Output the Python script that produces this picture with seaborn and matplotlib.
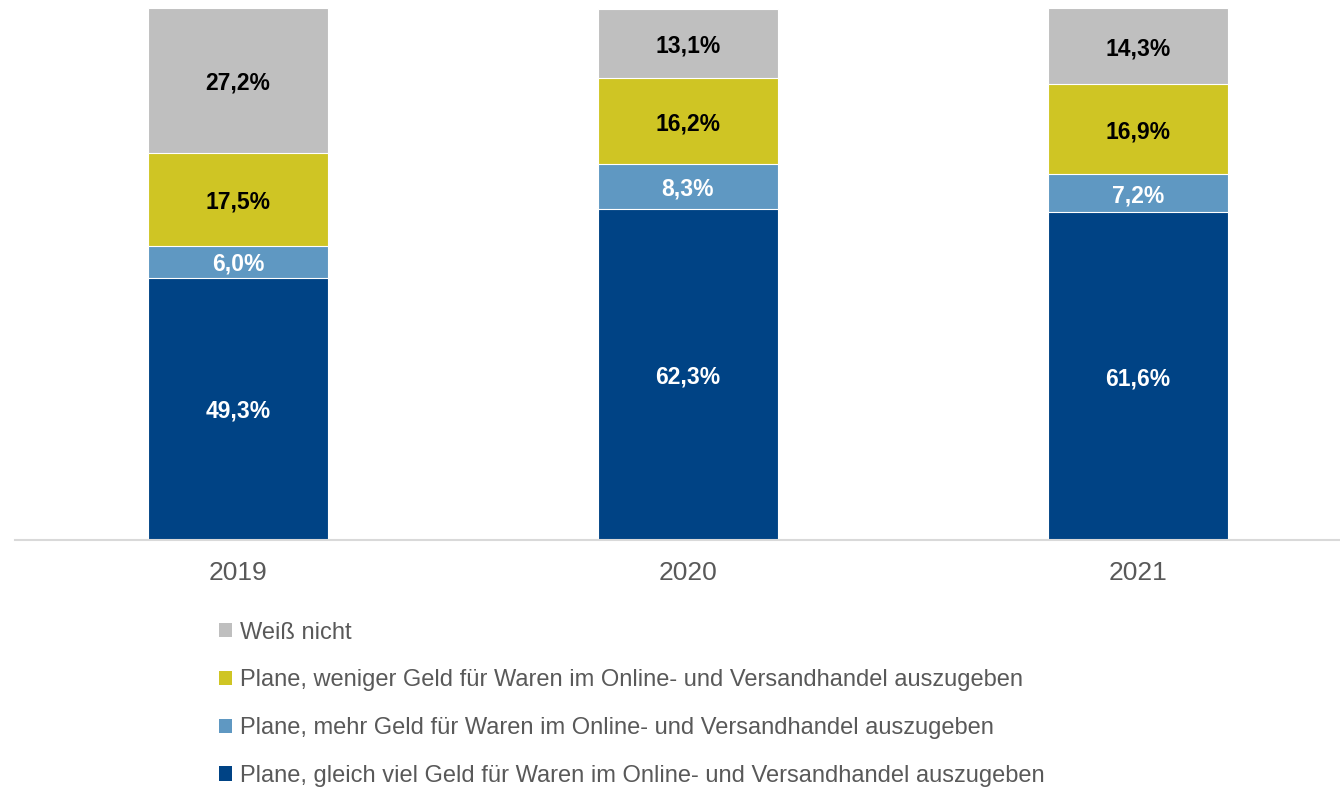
import pandas as pd
import numpy as np
import matplotlib
matplotlib.use("Agg")
import matplotlib.pyplot as plt
import seaborn as sns
from matplotlib.patches import Patch

# Daten (Anteile in %)
jahre = ["2019", "2020", "2021"]
gleich = [49.3, 62.3, 61.6]
mehr = [6.0, 8.3, 7.2]
weniger = [17.5, 16.2, 16.9]
weiss_nicht = [27.2, 13.1, 14.3]

kategorien = [
    "Plane, gleich viel Geld für Waren im Online- und Versandhandel auszugeben",
    "Plane, mehr Geld für Waren im Online- und Versandhandel auszugeben",
    "Plane, weniger Geld für Waren im Online- und Versandhandel auszugeben",
    "Weiß nicht",
]
farben = ["#004385", "#5F98C2", "#CFC524", "#BFBFBF"]
label_farben = ["white", "white", "black", "black"]

sns.set_style("white")
plt.rcParams["font.family"] = ["Liberation Sans", "DejaVu Sans"]

df = pd.DataFrame({"Jahr": jahre, "gleich": gleich, "mehr": mehr,
                   "weniger": weniger, "weiss": weiss_nicht})
serien = ["gleich", "mehr", "weniger", "weiss"]
kumuliert = df[serien].cumsum(axis=1)

fig = plt.figure(figsize=(13.4, 7.9), dpi=100)
ax = fig.add_axes([0.0112, 0.3165, 0.9888, 0.6734])

# gestapelte Balken: von oben (Summe) nach unten zeichnen
for i in reversed(range(len(serien))):
    sns.barplot(x=df["Jahr"], y=kumuliert[serien[i]], color=farben[i], width=0.4,
                edgecolor="white", linewidth=0.8, saturation=1, ax=ax)

# Beschriftungen in der Mitte der Segmente
for i, s in enumerate(serien):
    unten = kumuliert[s] - df[s]
    for j in range(len(jahre)):
        wert = df[s][j]
        ax.text(j, unten[j] + wert / 2, f"{wert:.1f}%".replace(".", ","),
                ha="center", va="center_baseline", fontsize=16.5, fontweight="bold",
                color=label_farben[i])

ax.set_xlim(-0.4956, 2.449)
ax.set_ylim(0, 100)
ax.set_xlabel("")
ax.set_ylabel("")
ax.set_yticks([])
ax.tick_params(axis="x", length=0, pad=15, labelsize=19, labelcolor="#595959")
for side in ["top", "right", "left"]:
    ax.spines[side].set_visible(False)
ax.spines["bottom"].set_color("#D9D9D9")
ax.spines["bottom"].set_linewidth(1.5)

handles = [Patch(facecolor=farben[i], edgecolor="none") for i in reversed(range(4))]
labels = list(reversed(kategorien))
fig.legend(handles, labels, loc="upper left", bbox_to_anchor=(0.1635, 0.213),
           frameon=False, fontsize=17, labelcolor="#595959",
           handlelength=0.55, handleheight=0.55, handletextpad=0.35,
           labelspacing=1.09, borderpad=0, borderaxespad=0)

fig.savefig("out.png", dpi=100)
